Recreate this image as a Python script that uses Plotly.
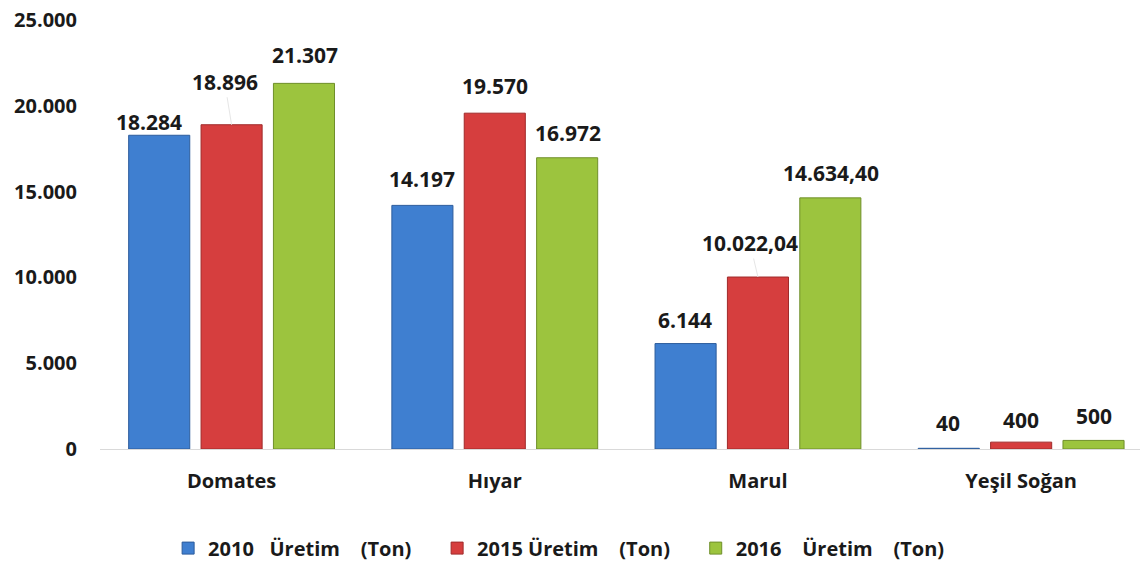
import plotly.graph_objects as go

NB = "\u00a0"
categories = ["Domates", "Hıyar", "Marul", "Yeşil Soğan"]
series_names = ["2010" + NB * 3 + "Üretim" + NB * 4 + "(Ton)" + NB * 4,
                "2015" + NB + "Üretim" + NB * 4 + "(Ton)" + NB * 4,
                "2016" + NB * 4 + "Üretim" + NB * 4 + "(Ton)"]
values_2010 = [18284, 14197, 6144, 40]
values_2015 = [18896, 19570, 10022.04, 400]
values_2016 = [21307, 16972, 14634.40, 500]
labels_2010 = ["18.284", "14.197", "6.144", "40"]
labels_2015 = ["18.896", "19.570", "10.022,04", "400"]
labels_2016 = ["21.307", "16.972", "14.634,40", "500"]
y_ticks = [0, 5000, 10000, 15000, 20000, 25000]
y_ticklabels = ["0", "5.000", "10.000", "15.000", "20.000", "25.000"]

series_values = [values_2010, values_2015, values_2016]
series_labels = [labels_2010, labels_2015, labels_2016]
colors = ["#3f7fd0", "#d63e3e", "#9cc43e"]
edge_colors = ["#2c5c9c", "#a02a2a", "#6f8f2a"]

# label placement tweaks (pixels): text offset from bar top
label_dx = [[-10, 0, 0, 0], [-7, 0, -8, 0], [0, 0, 0, 0]]
label_dy = [[13, 26, 24, 25], [43, 27, 34, 22], [28, 25, 25, 24]]
leader = [[False] * 4, [True, False, True, False], [False] * 4]
bar_offsets_px = [-73, 0, 73]

fig = go.Figure()
for i in range(3):
    fig.add_trace(go.Bar(
        x=categories, y=series_values[i], name=series_names[i],
        marker=dict(color=colors[i], line=dict(color=edge_colors[i], width=1)),
    ))

FONT = "Open Sans"
annotations = []
for i in range(3):
    for j, cat in enumerate(categories):
        annotations.append(dict(
            x=cat, y=series_values[i][j], xref="x", yref="y",
            text="<b>%s</b>" % series_labels[i][j],
            showarrow=True, arrowhead=0, arrowwidth=1,
            arrowcolor="#e6e6e6" if leader[i][j] else "rgba(0,0,0,0)",
            ax=label_dx[i][j], ay=-label_dy[i][j],
            xshift=bar_offsets_px[i], standoff=0, startstandoff=0,
            font=dict(family=FONT, size=21, color="#1a1a1a"),
        ))

# page body has an 8px margin; figure is sized so the plot lands where the reference has it
fig.update_layout(
    width=1140, height=556,
    margin=dict(l=92, r=0, t=12, b=115, autoexpand=False),
    paper_bgcolor="white", plot_bgcolor="white",
    barmode="group", bargap=0.175, bargroupgap=0.156,
    font=dict(family=FONT, color="#1a1a1a"),
    showlegend=True,
    legend=dict(orientation="h", xref="paper", x=0.065, xanchor="left",
                yref="paper", y=-0.231, yanchor="middle",
                font=dict(family=FONT, size=20, color="#1a1a1a", weight="bold"),
                traceorder="normal"),
    annotations=annotations,
)
fig.update_xaxes(range=[-0.5, 3.482], showline=True, linecolor="#d9d9d9", linewidth=1,
                 showgrid=False, ticks="", ticklabelstandoff=14,
                 tickfont=dict(family=FONT, size=20, color="#1a1a1a", weight="bold"))
fig.update_yaxes(range=[0, 25000], showgrid=False, zeroline=False, showline=False,
                 tickvals=y_ticks, ticktext=y_ticklabels, ticks="",
                 ticklabelstandoff=22, ticklabeloverflow="allow",
                 tickfont=dict(family=FONT, size=20, color="#1a1a1a", weight="bold"))

fig.write_html("out.html")
